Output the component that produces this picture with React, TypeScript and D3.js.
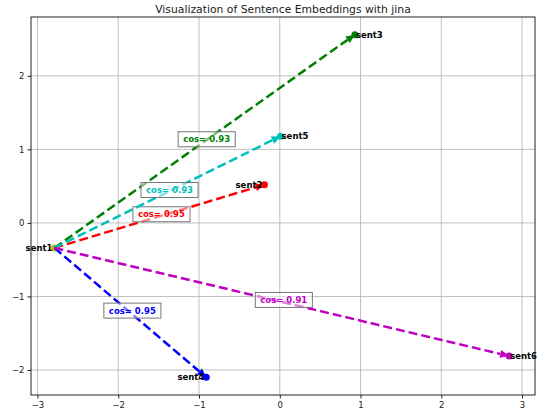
import React from 'react';
import * as d3 from 'd3';

// sentence embeddings projected to 2D
const names = ['sent1', 'sent2', 'sent3', 'sent4', 'sent5', 'sent6'];
const xs = [-2.79, -0.19, 0.93, -0.91, 0.01, 2.84];
const ys = [-0.34, 0.52, 2.56, -2.1, 1.18, -1.81];
// cosine similarity of sent1 vs the others (same order as names[1..])
const cosSims = [0.95, 0.93, 0.95, 0.93, 0.91];
const colors = ['#bfbf00', 'red', 'green', 'blue', '#00bfbf', '#bf00bf'];
const xTicks = [-3, -2, -1, 0, 1, 2, 3];
const yTicks = [-2, -1, 0, 1, 2];

const W = 543;
const H = 412;
const margin = { top: 17, right: 8, bottom: 17, left: 31 };

const fmt = (v: number) => (v < 0 ? '\u2212' + Math.abs(v) : String(v));

const App: React.FC = () => {
  const ref = React.useRef<SVGSVGElement>(null);

  React.useEffect(() => {
    if (!ref.current) return;
    const svg = d3.select(ref.current);
    svg.selectAll('*').remove();

    const iw = W - margin.left - margin.right;
    const ih = H - margin.top - margin.bottom;
    const x = d3.scaleLinear().domain([-3.08, 3.16]).range([0, iw]);
    const y = d3.scaleLinear().domain([-2.34, 2.8]).range([ih, 0]);

    svg.append('rect').attr('width', W).attr('height', H).attr('fill', 'white');

    svg.append('text')
      .attr('x', margin.left + iw / 2)
      .attr('y', 13)
      .attr('text-anchor', 'middle')
      .attr('font-size', 10.8)
      .attr('fill', '#222')
      .text('Visualization of Sentence Embeddings with jina');

    const g = svg.append('g').attr('transform', `translate(${margin.left},${margin.top})`);

    // grid
    g.selectAll('.gx').data(xTicks).enter().append('line')
      .attr('x1', d => x(d)).attr('x2', d => x(d))
      .attr('y1', 0).attr('y2', ih)
      .attr('stroke', '#b0b0b0').attr('stroke-width', 0.8);
    g.selectAll('.gy').data(yTicks).enter().append('line')
      .attr('y1', d => y(d)).attr('y2', d => y(d))
      .attr('x1', 0).attr('x2', iw)
      .attr('stroke', '#b0b0b0').attr('stroke-width', 0.8);

    // axes
    const ax = g.append('g').attr('transform', `translate(0,${ih})`)
      .call(d3.axisBottom(x).tickValues(xTicks).tickSize(3.5).tickFormat(d => fmt(+d)));
    const ay = g.append('g')
      .call(d3.axisLeft(y).tickValues(yTicks).tickSize(3.5).tickFormat(d => fmt(+d)));
    [ax, ay].forEach(a => {
      a.select('.domain').remove();
      a.selectAll('text').attr('font-size', 8.5).attr('fill', '#222').attr('font-family', 'DejaVu Sans');
      a.selectAll('line').attr('stroke', '#222');
    });

    g.append('rect').attr('width', iw).attr('height', ih)
      .attr('fill', 'none').attr('stroke', '#222').attr('stroke-width', 1);

    const x0 = x(xs[0]);
    const y0 = y(ys[0]);

    // points
    names.forEach((_, i) => {
      g.append('circle')
        .attr('cx', x(xs[i])).attr('cy', y(ys[i]))
        .attr('r', 3.5).attr('fill', colors[i]);
    });

    // dashed arrows from sent1
    for (let i = 1; i < names.length; i++) {
      const x1 = x(xs[i]);
      const y1 = y(ys[i]);
      const ang = Math.atan2(y1 - y0, x1 - x0);
      const hl = 9;
      const hw = 4;
      const bx = x1 - hl * Math.cos(ang);
      const by = y1 - hl * Math.sin(ang);
      g.append('line')
        .attr('x1', x0).attr('y1', y0).attr('x2', bx).attr('y2', by)
        .attr('stroke', colors[i]).attr('stroke-width', 2.5)
        .attr('stroke-dasharray', '9,4');
      const pts = [
        [x1, y1],
        [bx + hw * Math.sin(ang), by - hw * Math.cos(ang)],
        [bx - hw * Math.sin(ang), by + hw * Math.cos(ang)],
      ];
      g.append('polygon').attr('points', pts.map(p => p.join(',')).join(' ')).attr('fill', colors[i]);

      // cos label at midpoint
      const mx = (x0 + x1) / 2;
      const my = (y0 + y1) / 2;
      const lbl = g.append('g').attr('transform', `translate(${mx + 2},${my - 2})`);
      const t = lbl.append('text')
        .attr('text-anchor', 'middle').attr('dy', '0.35em')
        .attr('font-size', 8.5).attr('font-weight', 'bold')
        .attr('font-family', 'DejaVu Sans')
        .attr('fill', colors[i])
        .text(`cos= ${cosSims[i - 1].toFixed(2)}`);
      const bb = (t.node() as SVGTextElement).getBBox();
      lbl.insert('rect', 'text')
        .attr('x', bb.x - 5).attr('y', bb.y - 2.5)
        .attr('width', bb.width + 10).attr('height', bb.height + 5)
        .attr('fill', 'white').attr('fill-opacity', 0.5)
        .attr('stroke', '#777').attr('stroke-width', 1);
    }

    // sentence names
    names.forEach((n, i) => {
      const left = xs[i] < 0;
      g.append('text')
        .attr('x', x(xs[i]) + (left ? -2 : 1))
        .attr('y', y(ys[i]))
        .attr('dy', '0.35em')
        .attr('text-anchor', left ? 'end' : 'start')
        .attr('font-size', 8.5).attr('font-weight', 'bold')
        .attr('font-family', 'DejaVu Sans')
        .attr('fill', 'black')
        .text(n);
    });
  }, []);

  return (
    <svg ref={ref} width={W} height={H}
      style={{ position: 'absolute', left: 0, top: 0, fontFamily: 'DejaVu Sans' }} />
  );
};

export default App;
